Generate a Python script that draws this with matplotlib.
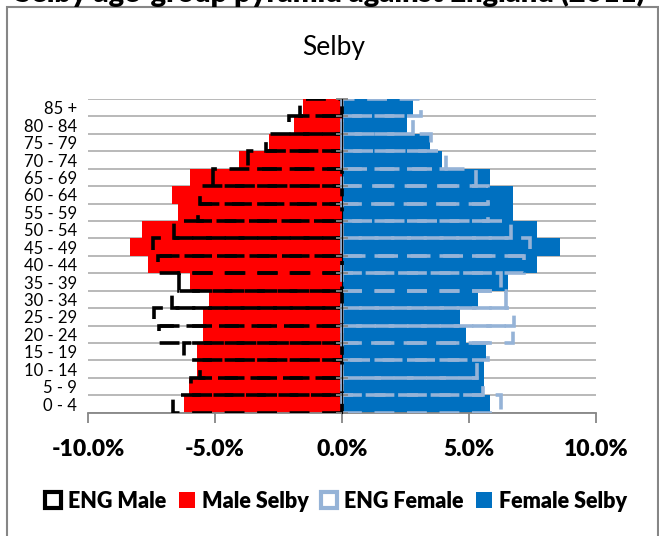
import matplotlib.pyplot as plt
from matplotlib.patches import Patch, Rectangle
from matplotlib.ticker import FixedLocator, FuncFormatter

plt.rcParams['font.family'] = ['Lato', 'DejaVu Sans']

# -------------------------
# Data (percent of population, youngest group first)
# -------------------------
ages = ['0 - 4', '5 - 9', '10 - 14', '15 - 19', '20 - 24', '25 - 29',
        '30 - 34', '35 - 39', '40 - 44', '45 - 49', '50 - 54', '55 - 59',
        '60 - 64', '65 - 69', '70 - 74', '75 - 79', '80 - 84', '85 +']

male_selby = [6.21, 6.01, 5.72, 5.72, 5.48, 5.48, 5.25, 5.97, 7.64, 8.36,
              7.87, 6.46, 6.69, 5.97, 4.04, 2.86, 1.90, 1.55]
eng_male = [6.67, 5.94, 5.59, 6.21, 7.22, 7.41, 6.71, 6.41, 7.26, 7.43,
            6.60, 5.68, 5.59, 5.08, 3.71, 2.99, 2.07, 1.64]
female_selby = [5.81, 5.58, 5.58, 5.67, 4.88, 4.66, 5.34, 6.52, 7.68, 8.58,
                7.68, 6.74, 6.74, 5.83, 3.94, 3.48, 2.56, 2.78]
eng_female = [6.26, 5.54, 5.31, 5.74, 6.72, 6.78, 6.46, 6.26, 7.18, 7.41,
              6.65, 5.74, 5.74, 5.28, 4.10, 3.50, 2.78, 3.11]

xticks = [-10, -5, 0, 5, 10]

RED = '#FF0000'
BLUE = '#0070C0'
LIGHT = '#95B3D7'
GREY = '#868686'

y = list(range(len(ages)))
bounds = [i - 0.5 for i in range(len(ages) + 1)]

# -------------------------
# Figure
# -------------------------
fig = plt.figure(figsize=(6.59, 5.36), dpi=100)
ax = fig.add_axes([0.1335, 0.230, 0.7709, 0.5853])

ax.barh(y, [-v for v in male_selby], height=1.0, color=RED, zorder=2)
ax.barh(y, female_selby, height=1.0, color=BLUE, zorder=2)
ax.barh(y, [-v for v in eng_male], height=1.0, fill=False, edgecolor='black',
        linewidth=2.6, linestyle=(0, (5.5, 3.5)), zorder=3)
ax.barh(y, eng_female, height=1.0, fill=False, edgecolor=LIGHT,
        linewidth=2.6, linestyle=(0, (5.5, 3.5)), zorder=3)

ax.set_xlim(-10, 10)
ax.set_ylim(-0.5, len(ages) - 0.5)

ax.set_xticks(xticks)
ax.xaxis.set_major_formatter(FuncFormatter(lambda v, p: f'{v:.1f}%'))
ax.tick_params(axis='x', direction='out', length=7, width=1.3, color=GREY,
               pad=12, labelsize=16.5)
for lab in ax.get_xticklabels():
    lab.set_fontweight('heavy')

ax.set_yticks(y)
ax.set_yticklabels(ages)
ax.tick_params(axis='y', which='major', length=0, pad=8, labelsize=12)
ax.yaxis.set_minor_locator(FixedLocator(bounds))
ax.tick_params(axis='y', which='minor', length=0)
ax.yaxis.grid(True, which='minor', color='#B3B3B3', linewidth=1.3, zorder=0)
ax.set_axisbelow(True)

for s in ['left', 'right', 'top']:
    ax.spines[s].set_visible(False)
ax.spines['bottom'].set_color(GREY)
ax.spines['bottom'].set_linewidth(1.3)

# centre value axis with crossing ticks
sec = ax.secondary_yaxis(0.5)
sec.set_yticks([])
sec.yaxis.set_minor_locator(FixedLocator(bounds))
sec.tick_params(which='minor', direction='inout', length=8, width=1.3, color=GREY)
sec.spines['left'].set_color(GREY)
sec.spines['left'].set_linewidth(1.3)
sec.set_zorder(5)

# -------------------------
# Titles, legend, frame
# -------------------------
fig.text(0.5, 1 - 2 / 536, 'Selby age-group pyramid against England (2011)',
         ha='center', va='baseline', fontsize=21, fontweight='heavy')
fig.text(0.507, 1 - 48 / 536, 'Selby', ha='center', va='center', fontsize=19)

handles = [
    Patch(facecolor='none', edgecolor='black', linewidth=3),
    Patch(facecolor=RED),
    Patch(facecolor='none', edgecolor=LIGHT, linewidth=3),
    Patch(facecolor=BLUE),
]
labels = ['ENG Male', 'Male Selby', 'ENG Female', 'Female Selby']
fig.legend(handles, labels, loc='center', bbox_to_anchor=(0.51, 1 - 501 / 536),
           ncol=4, frameon=False, prop={'weight': 'heavy', 'size': 15.5},
           handlelength=0.75, handleheight=0.75, handletextpad=0.3,
           columnspacing=0.6)

fig.patches.append(Rectangle((7 / 659, -0.02), 650.5 / 659, 1.02 - 7 / 536,
                             transform=fig.transFigure, fill=False,
                             edgecolor=GREY, linewidth=1.5))

plt.savefig('out.png', dpi=100)
